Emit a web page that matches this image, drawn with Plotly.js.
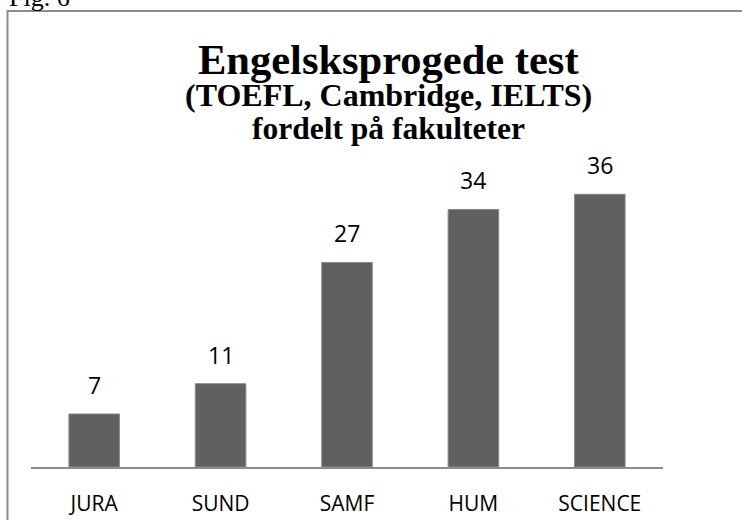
<!DOCTYPE html>
<html>
<head>
<meta charset="utf-8">
<script src="https://cdn.plot.ly/plotly-3.0.1.min.js"></script>
<style>
  body { margin: 0; background: #fff; }
  #chart { width: 742px; height: 520px; }
</style>
</head>
<body>
<div id="chart"></div>
<script>
// Faculties and number of English language tests
var faculties = ['JURA', 'SUND', 'SAMF', 'HUM', 'SCIENCE'];
var tests = [7, 11, 27, 34, 36];

var titleLines = ['Engelsksprogede test', '(TOEFL, Cambridge, IELTS)', 'fordelt på fakulteter'];
var figLabel = 'Fig. 6';

// plot area in pixels
var W = 742, H = 520;
var mL = 31, mR = 79, mT = 164, mB = 53;
var plotW = W - mL - mR, plotH = H - mT - mB;

//convert pixel position to paper coordinates
function px(x) { return (x - mL) / plotW; }
function py(y) { return (H - mB - y) / plotH; }

var serif = 'Liberation Serif, Times New Roman, serif';

var bars = {
  x: faculties,
  y: tests,
  type: 'bar',
  marker: { color: '#606060', line: { color: '#8a8a8a', width: 1 } },
  hoverinfo: 'none'
};

//value labels above the bars
var valueAnn = faculties.map(function (f, i) {
  return {
    text: String(tests[i]),
    x: f, y: tests[i],
    xref: 'x', yref: 'y',
    xanchor: 'center', yanchor: 'bottom',
    yshift: 11,
    showarrow: false,
    font: { family: 'Open Sans', size: 23, color: '#000' }
  };
});

var titleAnn = [
  { text: titleLines[0], size: 42.5, y: 76 },
  { text: titleLines[1], size: 32, y: 108 },
  { text: titleLines[2], size: 31.5, y: 141 }
].map(function (t) {
  return {
    text: '<b>' + t.text + '</b>',
    xref: 'paper', yref: 'paper',
    x: px(388), y: py(t.y + t.size * 0.22),
    xanchor: 'center', yanchor: 'bottom',
    showarrow: false,
    font: { family: serif, size: t.size, color: '#000' }
  };
});

titleAnn.push({
  text: figLabel,
  xref: 'paper', yref: 'paper',
  x: px(7), y: py(8 + 26 * 0.22),
  xanchor: 'left', yanchor: 'bottom',
  showarrow: false,
  font: { family: serif, size: 26, color: '#000' }
});

var layout = {
  width: W,
  height: H,
  margin: { l: mL, r: mR, t: mT, b: mB, pad: 0 },
  paper_bgcolor: '#fff',
  plot_bgcolor: '#fff',
  showlegend: false,
  bargap: 0.6,
  xaxis: {
    showline: true,
    linecolor: '#8c8c8c',
    linewidth: 1.5,
    ticks: '',
    ticklabelstandoff: 17,
    tickfont: { family: 'Open Sans', size: 21, color: '#000' }
  },
  yaxis: {
    range: [0, 40],
    visible: false,
    showgrid: false,
    zeroline: false
  },
  shapes: [{
    type: 'rect',
    xref: 'paper', yref: 'paper',
    x0: px(7.5), x1: px(760),
    y0: py(540), y1: py(11),
    line: { color: '#8c8c8c', width: 2 },
    layer: 'below'
  }],
  annotations: titleAnn.concat(valueAnn)
};

Plotly.newPlot('chart', [bars], layout, { displayModeBar: false, staticPlot: true });
</script>
</body>
</html>
